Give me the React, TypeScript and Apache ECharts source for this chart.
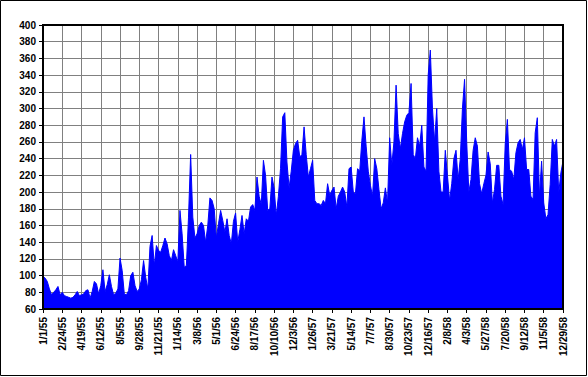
import React, { useEffect, useRef } from "react";
import * as echarts from "echarts";

// Values sampled every 6 days, starting 1/1/55
const START_YEAR = 1955;
const STEP_DAYS = 6;

const values1955a = [99, 97, 93, 84, 77, 80, 83, 87, 77, 80, 76, 75, 74, 73, 74, 77, 81, 76, 77, 78, 82, 83, 73, 81, 93, 90, 78, 88, 107, 81, 89, 101, 87, 77, 79, 84, 121, 106, 78, 77, 82];
const values1956a = [100, 104, 88, 81, 84, 95, 118, 98, 84, 135, 148, 112, 136, 130, 128, 136, 145, 138, 124, 118, 131, 124, 116, 178, 150, 110, 112, 170, 245, 170, 145, 150, 160, 164, 160, 140, 160, 193, 190, 180, 145];
const values1956b = [162, 178, 166, 152, 168, 148, 138, 165, 175, 140, 155, 172, 150, 168, 165, 182, 185, 178, 218, 195, 185, 238, 220, 178, 180, 218, 205, 172, 195, 228, 290, 295, 236, 205, 225, 250, 258, 262, 242, 245, 278];
const values1957a = [245, 218, 228, 238, 190, 186, 186, 184, 190, 186, 210, 196, 202, 206, 180, 195, 200, 206, 200, 182, 228, 230, 200, 198, 228, 225, 262, 290, 255, 225, 208, 195, 240, 228, 203, 180, 187, 205, 187, 265, 232];
const values1957b = [260, 328, 270, 252, 270, 284, 292, 295, 330, 245, 240, 265, 255, 280, 230, 225, 340, 370, 300, 260, 300, 225, 200, 200, 250, 220, 190, 210, 240, 250, 215, 240, 300, 335, 260, 200, 215, 250, 265, 255, 210];
const values1958 = [198, 210, 220, 248, 234, 187, 203, 232, 232, 195, 185, 258, 287, 227, 225, 215, 247, 259, 263, 251, 265, 227, 227, 195, 191, 271, 289, 195, 237, 187, 168, 173, 209, 263, 255, 263, 199, 223, 237];

const seriesValues = [
  ...values1955a,
  ...values1956a,
  ...values1956b,
  ...values1957a,
  ...values1957b,
  ...values1958,
];

const Y_MIN = 60;
const Y_MAX = 400;
const Y_STEP = 20;
const LABEL_EVERY = 9; // 54 days

function buildCategories(n: number): string[] {
  const out: string[] = [];
  const t0 = Date.UTC(START_YEAR, 0, 1);
  for (let i = 0; i < n; i++) {
    const d = new Date(t0 + i * STEP_DAYS * 86400000);
    const yy = String(d.getUTCFullYear() % 100).padStart(2, "0");
    out.push(`${d.getUTCMonth() + 1}/${d.getUTCDate()}/${yy}`);
  }
  return out;
}

const categories = buildCategories(seriesValues.length);

export default function App() {
  const ref = useRef<HTMLDivElement>(null);
  useEffect(() => {
    document.body.style.margin = "0";
    if (!ref.current) return;
    const chart = echarts.init(ref.current, null, { renderer: "svg" });
    const gridLeft = 43;
    const gridTop = 25;
    const gridW = 520;
    const gridH = 284;
    const font = "'Liberation Sans', Arial, sans-serif";
    chart.setOption({
      animation: false,
      backgroundColor: "#ffffff",
      grid: {
        left: gridLeft,
        top: gridTop,
        width: gridW,
        height: gridH,
        containLabel: false,
      },
      xAxis: {
        type: "category",
        data: categories,
        boundaryGap: false,
        axisLine: { show: true, lineStyle: { color: "#000", width: 2 } },
        axisTick: {
          show: true,
          interval: LABEL_EVERY - 1,
          length: 4,
          lineStyle: { color: "#000", width: 1 },
        },
        axisLabel: {
          interval: LABEL_EVERY - 1,
          rotate: 90,
          fontSize: 10,
          fontWeight: "bold",
          color: "#000",
          fontFamily: font,
          margin: 8,
        },
        splitLine: {
          show: true,
          interval: LABEL_EVERY - 1,
          lineStyle: { color: "#808080", width: 1 },
        },
      },
      yAxis: {
        type: "value",
        min: Y_MIN,
        max: Y_MAX,
        interval: Y_STEP,
        axisLine: { show: true, lineStyle: { color: "#000", width: 2 } },
        axisTick: { show: true, length: 4, lineStyle: { color: "#000", width: 1 } },
        axisLabel: {
          fontSize: 10,
          fontWeight: "bold",
          color: "#000",
          fontFamily: font,
          margin: 7,
        },
        splitLine: { show: true, lineStyle: { color: "#808080", width: 1 } },
      },
      series: [
        {
          type: "line",
          data: seriesValues,
          symbol: "none",
          lineStyle: { color: "#0000ff", width: 1 },
          itemStyle: { color: "#0000ff" },
          areaStyle: { color: "#0000ff", opacity: 1, origin: "start" },
          z: 2,
        },
      ],
      graphic: [
        {
          type: "rect",
          shape: { x: gridLeft, y: gridTop, width: gridW, height: gridH },
          style: { fill: "transparent", stroke: "#000", lineWidth: 2 },
          silent: true,
          z: 100,
        },
        {
          type: "rect",
          shape: { x: 0.5, y: 0.5, width: 586, height: 375 },
          style: { fill: "transparent", stroke: "#000", lineWidth: 1 },
          silent: true,
          z: 100,
        },
      ],
    });
    return () => chart.dispose();
  }, []);
  return <div ref={ref} style={{ width: 588, height: 377 }} />;
}
